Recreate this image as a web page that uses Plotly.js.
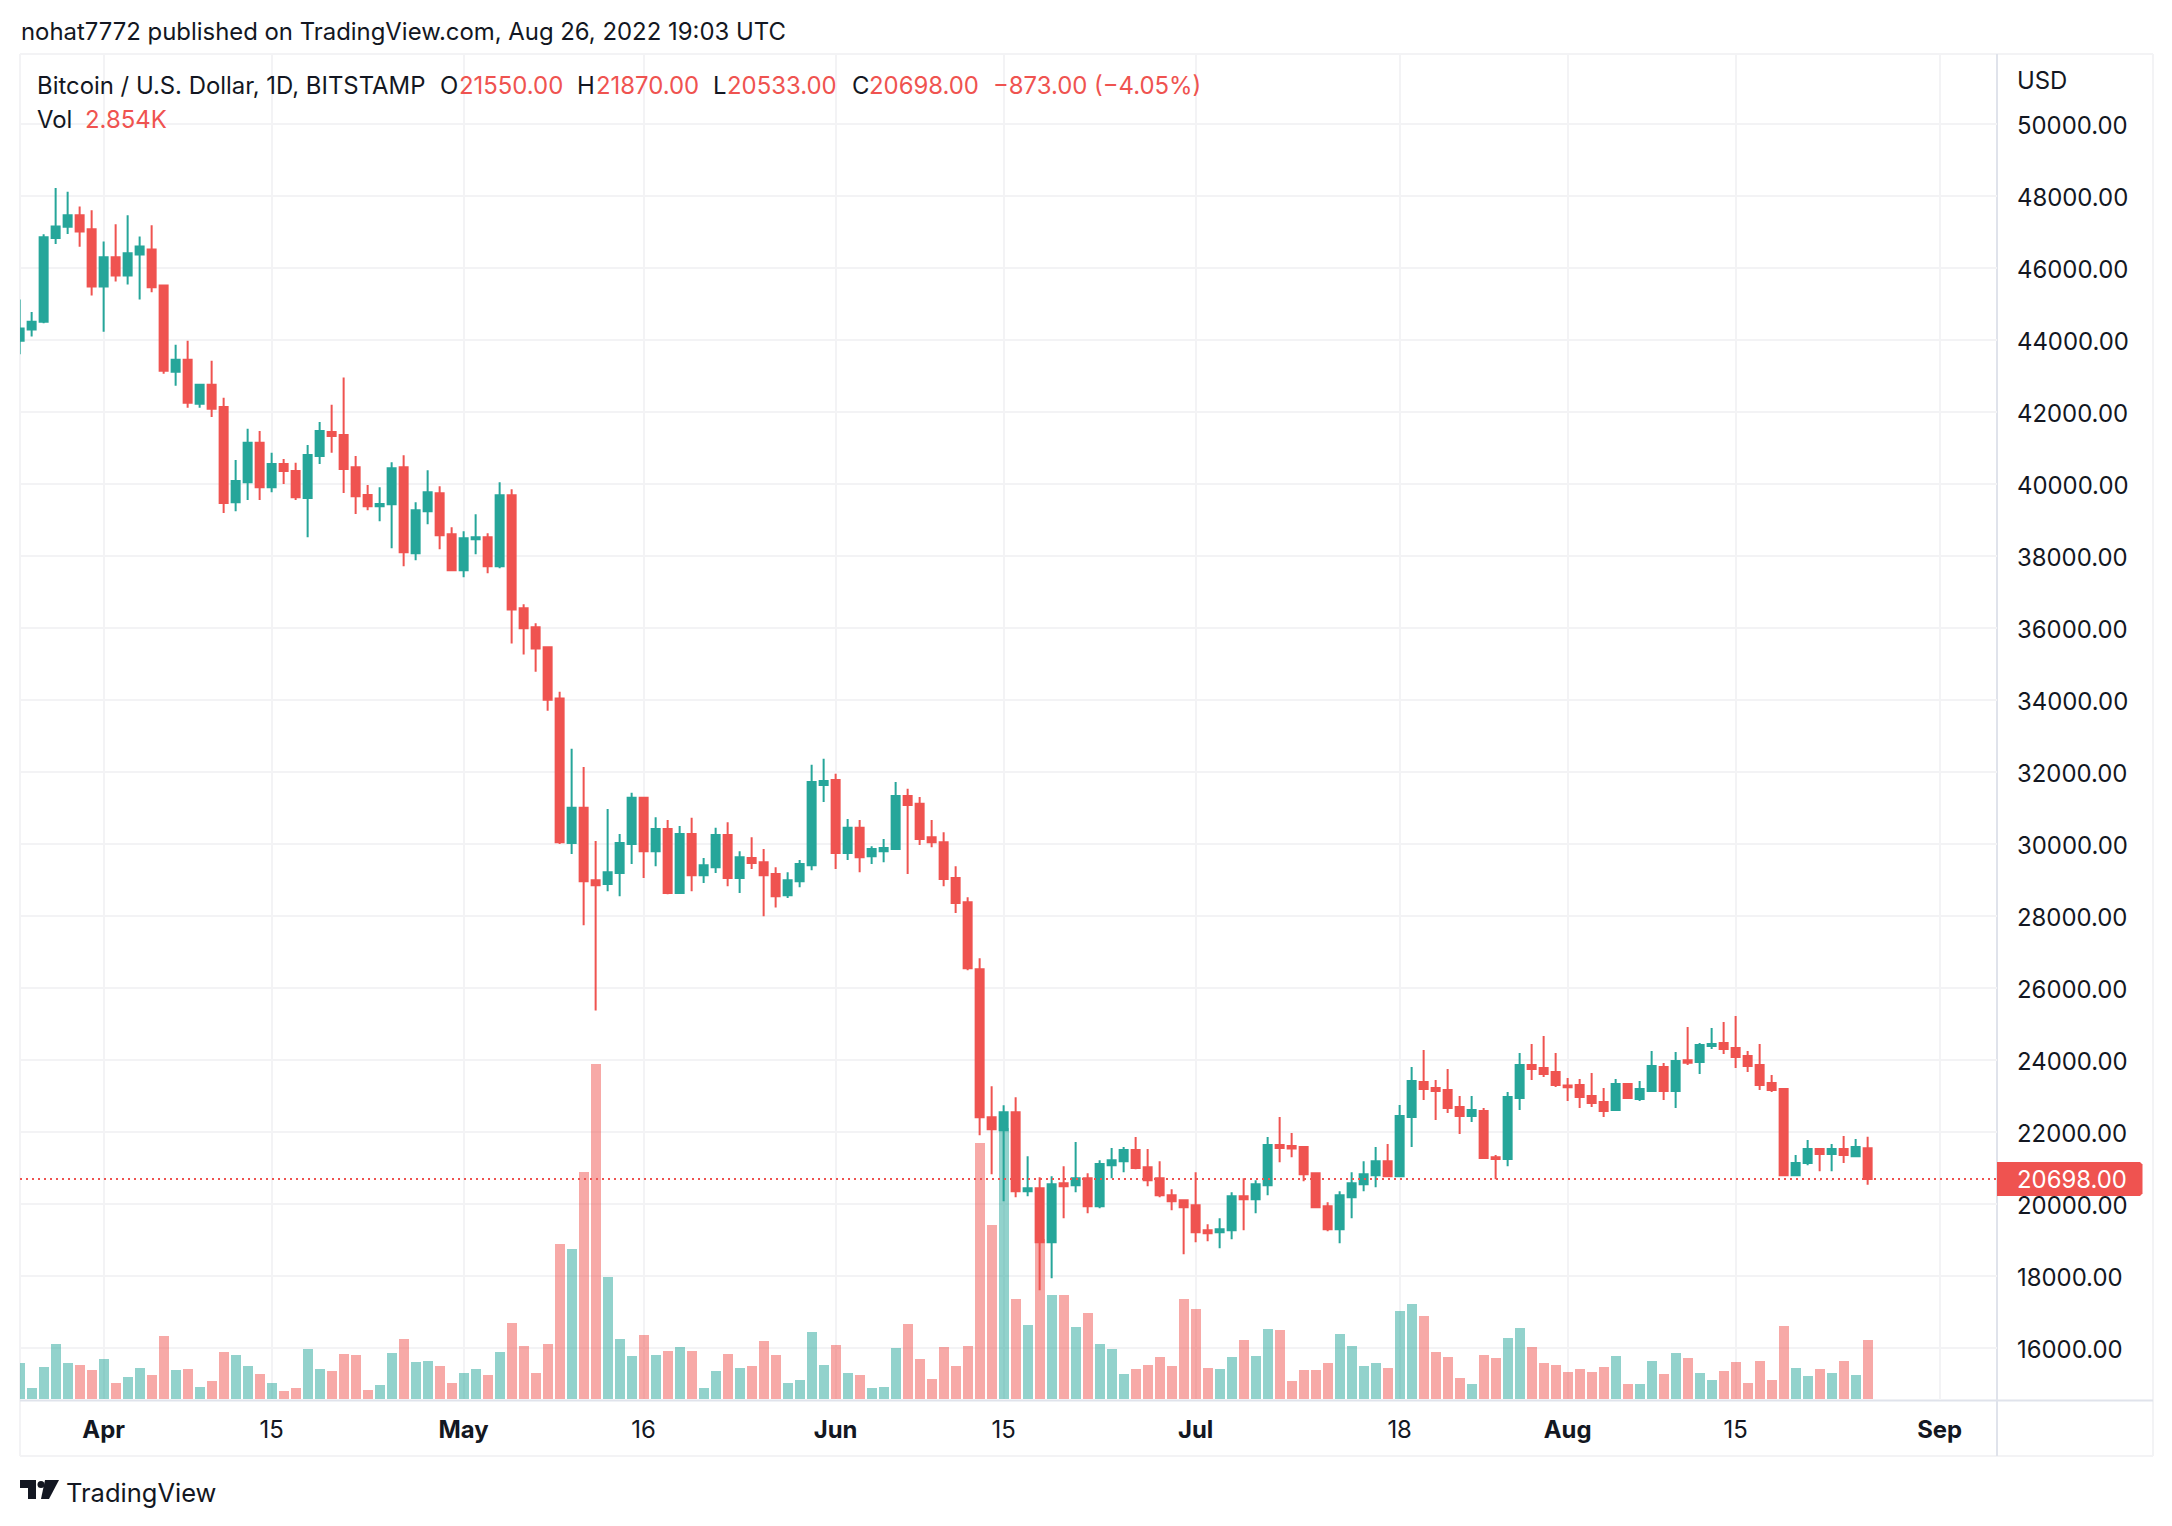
<!DOCTYPE html>
<html><head><meta charset="utf-8">
<script src="https://cdn.plot.ly/plotly-3.0.1.min.js"></script>
<style>html,body{margin:0;padding:0;background:#fff}#c{width:2172px;height:1526px}</style>
</head><body><div id="c"></div>
<script>
// daily candles from 2022-03-25 to 2022-08-26
const startDate = '2022-03-25';
const opens = [43980,44289,44508,46836,47144,47463,47075,45483,46299,45791,46378,46517,45513,43115,43453,42229,42756,42140,39493,40050,41145,39911,40557,40358,39612,40776,41443,41363,40468,39692,39383,39435,40463,38074,39241,39741,38602,37602,38463,38518,37713,39685,36547,36020,35463,34040,30030,31005,28995,28886,29194,30000,31284,29801,30418,28637,30279,29135,29353,30249,29055,29612,29493,29164,28577,28965,29413,31642,31781,29751,30448,29662,29801,29861,31334,31115,30189,30050,29055,28380,26518,22407,22046,22546,20357,20440,18939,20579,20524,20718,19940,21080,21191,21497,21024,20718,20246,20107,19968,19272,19217,19272,20218,20134,20524,21636,21608,21581,20857,19940,19300,20190,20552,20802,21191,20774,22415,23388,23221,23166,22693,22443,22582,21302,21247,22943,23861,23778,23666,23295,23305,22999,22832,22610,23333,22915,23138,23805,23138,23990,23944,24389,24473,24334,24111,23861,23360,23194,20802,21136,21525,21386,21525,21330,21550];
const highs = [45124,44776,46935,48219,48119,47711,47602,46736,47214,47463,46876,47184,45542,43871,43980,42786,43423,42398,40667,41533,41473,40866,40697,40587,41085,41722,42199,42955,40776,39970,39911,40602,40796,39491,40380,39935,38796,38685,39157,38630,40046,39852,36657,36129,35483,34229,32647,32140,30080,30975,30279,31423,31310,30746,30667,30498,30727,29612,30448,30607,29801,30189,29861,29353,29214,29553,32199,32368,31950,30697,30667,29941,30140,31722,31533,31304,30667,30329,29383,28519,26824,23268,22740,22963,21330,20746,20774,21052,21720,20857,21219,21553,21581,21859,21525,21191,20413,20134,20885,19439,19606,20329,20718,20663,21859,22415,21970,21608,20870,20051,20357,20885,21191,21581,21664,22749,23805,24278,23444,23750,22999,22999,22665,21358,23110,24195,24445,24667,24195,23499,23472,23638,23221,23472,23360,23416,24250,23917,24222,24918,24473,24890,25057,25224,24250,24445,23583,23205,21358,21775,21540,21664,21886,21803,21870];
const lows = [43602,44100,44468,46667,46945,46587,45234,44229,45622,45542,45124,45323,43065,42727,42120,42120,41861,39194,39244,39553,39553,39771,40000,39553,38518,40557,40866,39751,39164,39274,38965,38213,37713,37879,38880,38185,37580,37407,38046,37518,37657,35572,35264,34786,33702,30000,29722,27742,25373,28687,28548,29443,29055,29383,28607,28630,28687,28916,29194,28826,28637,29304,27990,28239,28498,28796,29274,31164,29304,29553,29214,29443,29493,29850,29164,29970,29911,28826,28080,26491,21907,20830,20079,20190,20218,17604,17937,19606,20329,19745,19884,20718,20885,20969,20496,20190,19828,18605,18939,18966,18772,19022,19272,19745,20246,21163,21302,20635,19884,19244,18911,19606,20357,20468,20746,20746,21581,22888,22331,22526,21942,22276,21247,20691,21052,22610,23444,23527,23249,22860,22665,22693,22415,22582,22915,22860,23130,22888,22665,23861,23611,24306,24167,23778,23666,23166,23110,20774,20774,21080,20913,20913,21136,21320,20533];
const closes = [44319,44508,46856,47154,47463,47015,45483,46299,45791,46408,46597,45463,43144,43453,42259,42756,42090,39473,40080,41145,39911,40557,40358,39632,40806,41473,41334,40418,39662,39383,39443,40435,38102,39268,39768,38574,37602,38491,38518,37713,39685,36517,35990,35433,34010,30050,31005,28965,28856,29214,30030,31284,29801,30418,28637,30279,29135,29413,30249,29055,29632,29473,29135,28548,28995,29443,31722,31751,29751,30448,29632,29861,29891,31334,31085,30140,30050,29025,28358,26546,22407,22080,22546,20357,20440,18939,20552,20496,20718,19940,21108,21219,21497,20997,20663,20246,20079,19912,19217,19189,19300,20218,20134,20552,21636,21553,21543,20830,19912,19300,20246,20579,20830,21191,20774,22443,23416,23194,23138,22665,22443,22610,21275,21247,22971,23861,23750,23611,23305,23240,22971,22804,22582,23333,22943,23194,23833,23138,23972,23926,24417,24445,24306,24083,23833,23305,23166,20802,21136,21525,21386,21525,21358,21581,20698];
const volumesK = [1.74,0.53,1.55,2.66,1.74,1.64,1.40,1.93,0.77,1.06,1.50,1.16,3.05,1.40,1.45,0.58,0.87,2.27,2.13,1.60,1.21,0.77,0.39,0.53,2.42,1.45,1.35,2.18,2.13,0.44,0.68,2.23,2.90,1.79,1.84,1.60,0.77,1.26,1.45,1.16,2.27,3.68,2.56,1.26,2.66,7.50,7.26,10.98,16.20,5.90,2.90,2.08,3.10,2.13,2.32,2.52,2.32,0.53,1.35,2.18,1.50,1.60,2.81,2.13,0.77,0.92,3.24,1.64,2.61,1.26,1.16,0.53,0.58,2.47,3.63,1.93,0.97,2.52,1.60,2.56,12.38,8.42,13.09,4.84,3.58,7.74,5.03,5.03,3.48,4.16,2.66,2.42,1.21,1.45,1.64,2.03,1.60,4.84,4.35,1.50,1.45,2.03,2.85,2.08,3.39,3.34,0.87,1.40,1.40,1.74,3.14,2.56,1.60,1.74,1.50,4.26,4.60,4.01,2.27,2.03,1.02,0.73,2.13,1.98,2.95,3.43,2.52,1.74,1.64,1.31,1.45,1.31,1.55,2.08,0.73,0.73,1.84,1.21,2.23,1.98,1.26,0.92,1.35,1.79,0.77,1.84,0.92,3.53,1.50,1.11,1.45,1.26,1.84,1.16,2.854];
const xTickDates = ['2022-04-01','2022-04-15','2022-05-01','2022-05-16','2022-06-01','2022-06-15','2022-07-01','2022-07-18','2022-08-01','2022-08-15','2022-09-01'];
const xTickLabels = ['<b>Apr</b>','15','<b>May</b>','16','<b>Jun</b>','15','<b>Jul</b>','18','<b>Aug</b>','15','<b>Sep</b>'];
const lastPrice = 20698;
const lastPriceLabel = '20698.00';

const UP='#26a69a', DOWN='#ef5350', INK='#131722', GRID='#f3f3f5', FRAME='#e0e3eb', FONT='Inter, "Liberation Sans", sans-serif';
const dates = opens.map((_,i)=>{const d=new Date(Date.UTC(2022,2,25+i));return d.toISOString().slice(0,10);});
const L=20,R=1997,T=54,B=1400;
const px=x=>(x-L)/(R-L), py=y=>(B-y)/(B-T);

const volumeTrace={type:'bar',x:dates,y:volumesK,yaxis:'y',xaxis:'x',width:72000000,hoverinfo:'skip',
  marker:{color:opens.map((o,i)=>closes[i]>=o?'rgba(38,166,154,0.5)':'rgba(239,83,80,0.5)'),line:{width:0}}};
const candleTrace={type:'candlestick',x:dates,open:opens,high:highs,low:lows,close:closes,yaxis:'y2',xaxis:'x',whiskerwidth:0,
  increasing:{line:{color:UP,width:2},fillcolor:UP},decreasing:{line:{color:DOWN,width:2},fillcolor:DOWN}};

const TS=23.9;
function label(x,y,text,color,size,extra){return Object.assign({xref:'paper',yref:'paper',x:px(x),y:py(y),xanchor:'left',yanchor:'middle',text:text,showarrow:false,borderpad:0,
  font:{family:FONT,size:size||TS,color:color||INK}},extra||{});}
const annotations=[
 label(20,31,'nohat7772 published on TradingView.com, Aug 26, 2022 19:03 UTC'),
 label(36,85.5,'Bitcoin / U.S. Dollar, 1D, BITSTAMP'),
 label(439,85.5,'O'),label(458,85.5,'21550.00',DOWN),
 label(576,85.5,'H'),label(594.5,85.5,'21870.00',DOWN),
 label(712,85.5,'L'),label(726,85.5,'20533.00',DOWN),
 label(851,85.5,'C'),label(868,85.5,'20698.00',DOWN),
 label(992,85.5,'−873.00 (−4.05%)',DOWN),
 label(36,119.5,'Vol'),label(84,119.5,'2.854K',DOWN),
 label(2016,80,'USD'),
 label(2016,1179,lastPriceLabel,'#ffffff'),
 label(65,1492,'TradingView',INK,25.5)
];
const line=(x0,y0,x1,y1,c,w)=>({type:'line',xref:'paper',yref:'paper',x0:px(x0),y0:py(y0),x1:px(x1),y1:py(y1),line:{color:c,width:w},layer:'below'});
const poly=(pts,c)=>({type:'path',xref:'paper',yref:'paper',path:'M'+pts.map(p=>px(p[0])+','+py(p[1])).join('L')+'Z',fillcolor:c,line:{width:0},layer:'above'});
const shapes=[
 line(20,54,2153,54,GRID,2),line(20,54,20,1456,GRID,2),line(2153,54,2153,1456,GRID,2),line(20,1456,2153,1456,GRID,2),
 line(1997,54,1997,1456,FRAME,2),line(20,1400.5,2153,1400.5,FRAME,2),
 {type:'line',xref:'paper',yref:'y2',x0:0,x1:1,y0:lastPrice,y1:lastPrice,line:{color:DOWN,width:2,dash:'2px,4px'},layer:'above'},
 poly([[1997,1162],[2140,1162],[2142.5,1164.5],[2142.5,1193.5],[2140,1196],[1997,1196]],DOWN),
 poly([[20,1480],[36,1480],[36,1499],[28,1499],[28,1488],[20,1488]],INK),
 {type:'circle',xref:'paper',yref:'paper',x0:px(37.5),x1:px(44.5),y0:py(1481),y1:py(1488),fillcolor:INK,line:{width:0},layer:'above'},
 poly([[45,1480],[59,1480],[49,1499],[41,1499]],INK)
];
const layout={width:2172,height:1526,margin:{l:L,r:2172-R,t:T,b:1526-B,autoexpand:false,pad:0},
 paper_bgcolor:'#fff',plot_bgcolor:'#fff',showlegend:false,boxgap:0.333,boxgroupgap:0,bargap:0,
 font:{family:FONT,color:INK,size:TS},
 xaxis:{type:'date',range:['2022-03-25 00:43','2022-09-05 18:43'],tickmode:'array',tickvals:xTickDates,ticktext:xTickLabels,
   showgrid:true,gridcolor:GRID,gridwidth:2,showline:false,zeroline:false,ticks:'',tickangle:0,
   ticklabelstandoff:13,tickfont:{family:FONT,size:TS,color:INK},rangeslider:{visible:false}},
 yaxis:{domain:[0,1],range:[-0.0484,65.06],visible:false,showgrid:false,zeroline:false,fixedrange:true},
 yaxis2:{overlaying:'y',side:'right',range:[14556,51944],tickmode:'linear',tick0:16000,dtick:2000,tickformat:'.2f',
   showgrid:true,gridcolor:GRID,gridwidth:2,showline:false,zeroline:false,ticks:'',ticklabelstandoff:19,ticklabelshift:2,
   tickfont:{family:FONT,size:TS,color:INK}},
 shapes:shapes,annotations:annotations};
Plotly.newPlot('c',[volumeTrace,candleTrace],layout,{displayModeBar:false,staticPlot:true});
</script></body></html>
